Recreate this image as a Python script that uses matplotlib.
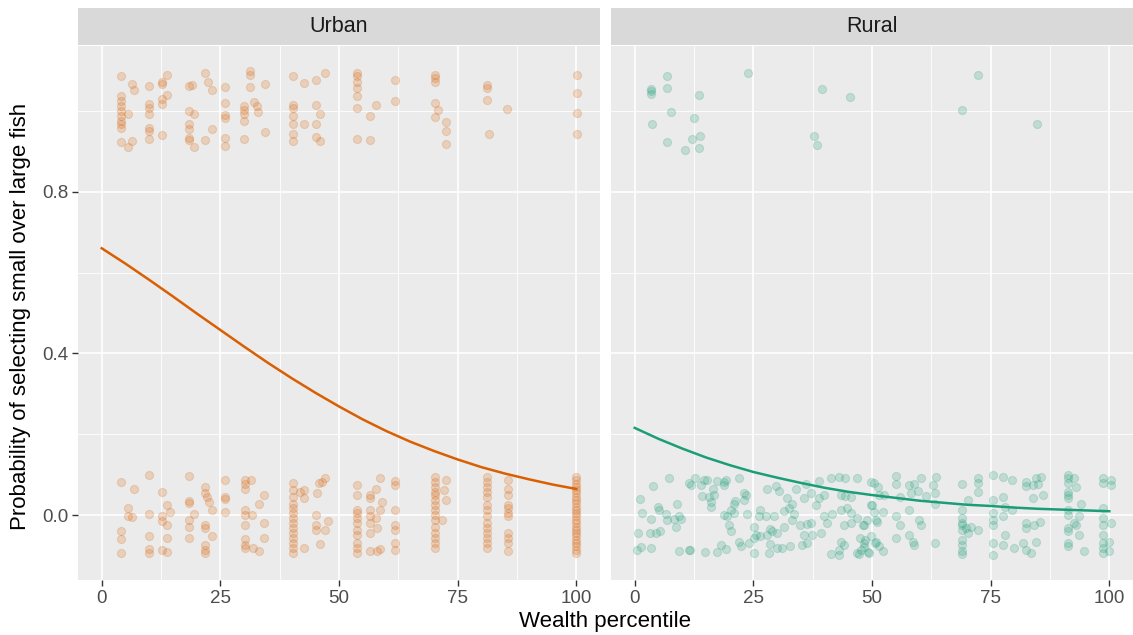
import matplotlib.pyplot as plt
import numpy as np

plt.rcParams['font.family'] = ['Liberation Sans', 'DejaVu Sans']

panels = ['Urban', 'Rural']
colors = {'Urban': '#D95F02', 'Rural': '#1B9E77'}

# jittered observations (wealth percentile, outcome)
urban_top = [
    (4.1, 1.087), (6.4, 1.067), (6.9, 1.051), (9.9, 1.061), (12.7, 1.065), (12.7, 1.072), (13.7, 1.089),
    (4.1, 1.036), (4.1, 1.023), (4.1, 1.011), (4.1, 0.999), (4.1, 0.987), (4.1, 0.974), (4.1, 0.966), (4.1, 0.958),
    (5.5, 0.991), (9.9, 1.017), (9.9, 1.007), (9.9, 0.991), (13.7, 1.039), (12.7, 1.028), (12.7, 1.017),
    (9.9, 0.958), (9.9, 0.950), (9.9, 0.929), (12.7, 0.940), (4.1, 0.923), (5.5, 0.910), (6.4, 0.925),
    (18.3, 1.060), (19.0, 1.063), (21.8, 1.094), (22.4, 1.072), (23.2, 1.052), (25.9, 1.058),
    (18.3, 0.999), (19.4, 0.992), (18.3, 0.966), (18.3, 0.954), (18.3, 0.933), (18.3, 0.927), (19.4, 0.910),
    (21.8, 0.927), (23.2, 0.954), (25.9, 1.020), (25.9, 0.989), (25.9, 0.982), (25.9, 0.933), (25.9, 0.913),
    (31.3, 1.097), (31.3, 1.089), (31.3, 1.058), (34.5, 1.067), (29.9, 1.011), (29.9, 1.003), (29.9, 0.991),
    (29.9, 0.974), (32.0, 1.022), (32.7, 1.011), (32.9, 0.997), (29.9, 0.929), (34.4, 0.947),
    (40.4, 1.087), (42.7, 1.068), (45.2, 1.077), (47.1, 1.093),
    (40.4, 1.015), (40.4, 1.007), (40.4, 0.987), (40.4, 0.966), (40.4, 0.943), (40.4, 0.925),
    (42.7, 0.966), (45.2, 1.015), (46.1, 0.991), (45.2, 0.968), (45.2, 0.935), (46.1, 0.925),
    (53.8, 1.093), (53.8, 1.085), (53.8, 1.072), (53.8, 1.056), (53.8, 1.036), (53.8, 1.007), (53.8, 0.931),
    (56.6, 0.987), (56.6, 0.928), (57.9, 1.015), (61.7, 1.077), (61.7, 1.023),
    (70.3, 1.089), (70.3, 1.082), (70.3, 1.071), (70.3, 1.020), (70.8, 1.001), (70.3, 0.984),
    (72.6, 0.973), (72.6, 0.951), (72.6, 0.917),
    (81.2, 1.063), (81.2, 1.056), (81.2, 1.026), (85.5, 1.005), (81.6, 0.943),
    (100.1, 1.089), (100.1, 1.044), (100.1, 0.995), (100.1, 0.943),
]

urban_bottom = [
    (4.1, 0.083), (9.9, 0.099), (6.9, 0.064), (12.7, 0.058), (5.5, 0.017), (5.5, -0.002), (6.4, -0.005), (9.9, 0.003),
    (4.1, -0.040), (4.1, -0.059), (4.1, -0.093), (9.9, -0.052), (9.9, -0.083), (9.9, -0.093),
    (12.7, -0.003), (12.7, -0.015), (13.7, -0.024), (13.8, 0.025), (14.3, 0.009), (13.8, -0.056), (12.7, -0.087), (13.8, -0.092),
    (18.3, 0.097), (18.3, 0.036), (18.3, 0.031), (19.4, 0.003), (18.3, -0.011), (18.3, -0.028), (18.3, -0.056),
    (21.8, 0.069), (21.8, 0.056), (22.2, 0.046), (22.5, 0.034), (23.2, 0.013), (21.8, -0.024), (21.8, -0.032), (23.2, -0.051),
    (21.8, -0.073), (21.8, -0.087), (21.8, -0.093),
    (25.9, 0.088), (25.9, 0.046), (25.9, 0.039), (25.9, 0.009),
    (30.1, 0.088), (30.1, 0.077), (30.1, 0.066), (31.5, 0.088), (34.1, 0.050), (33.1, 0.029),
    (30.1, 0.013), (30.1, 0.001), (31.6, 0.001), (30.1, -0.024), (34.1, -0.020), (34.1, -0.056),
    (30.1, -0.059), (30.1, -0.073), (30.1, -0.081), (31.9, -0.081), (33.1, -0.089),
    (40.4, 0.079), (40.4, 0.062), (40.4, 0.046), (40.4, 0.029), (40.4, 0.017), (40.4, 0.005), (40.4, -0.007),
    (40.4, -0.020), (40.4, -0.032), (40.4, -0.044), (40.4, -0.056), (40.4, -0.069), (40.4, -0.081), (40.4, -0.093),
    (41.8, 0.058), (42.7, 0.062), (42.7, 0.042), (45.7, 0.079), (47.1, 0.091), (46.4, 0.083), (45.3, 0.054),
    (45.2, 0.001), (45.2, -0.024), (45.2, -0.036), (47.7, -0.015), (47.0, -0.036), (46.1, -0.070), (42.7, -0.081),
    (53.8, 0.074), (53.8, 0.050), (53.8, 0.013), (53.8, 0.005), (53.8, -0.007), (53.8, -0.020), (53.8, -0.036),
    (53.8, -0.048), (53.8, -0.069), (53.8, -0.081), (53.8, -0.093),
    (56.6, 0.050), (56.6, 0.042), (56.6, 0.013), (56.6, -0.003), (56.6, -0.020), (56.6, -0.044), (56.6, -0.089),
    (57.7, 0.066), (58.7, 0.091), (59.1, 0.034), (58.7, 0.013), (57.7, -0.007), (58.0, -0.032), (58.0, -0.089), (58.7, -0.083),
    (61.7, 0.085), (61.7, 0.074), (61.7, 0.013), (61.7, -0.024), (61.7, -0.036), (61.7, -0.069), (61.7, -0.087),
    (70.3, 0.095), (70.3, 0.083), (70.3, 0.070), (70.3, 0.058), (70.3, 0.050), (70.3, 0.038), (70.3, 0.025), (70.3, 0.013),
    (70.3, 0.001), (70.3, -0.011), (70.3, -0.028), (70.3, -0.044), (70.3, -0.056), (70.3, -0.069), (70.3, -0.081),
    (72.6, 0.088), (72.1, 0.062), (72.6, 0.038), (71.7, -0.011),
    (81.2, 0.095), (81.2, 0.083), (81.2, 0.070), (81.2, 0.058), (81.2, 0.046), (81.2, 0.025), (81.2, 0.013),
    (81.2, -0.003), (81.2, -0.020), (81.2, -0.032), (81.2, -0.044), (81.2, -0.056), (81.2, -0.069), (81.2, -0.081),
    (85.6, 0.087), (85.6, 0.066), (85.6, 0.050), (85.6, 0.025), (85.6, 0.017), (85.6, 0.005), (85.6, -0.003),
    (85.6, -0.044), (85.6, -0.056), (85.6, -0.069), (85.6, -0.089),
    (100.0, 0.095), (100.0, 0.087), (100.0, 0.078), (100.0, 0.070), (100.0, 0.062), (100.0, 0.054), (100.0, 0.046),
    (100.0, 0.038), (100.0, 0.030), (100.0, 0.021), (100.0, 0.013), (100.0, 0.005), (100.0, -0.003), (100.0, -0.011),
    (100.0, -0.020), (100.0, -0.028), (100.0, -0.036), (100.0, -0.044), (100.0, -0.052), (100.0, -0.061),
    (100.0, -0.069), (100.0, -0.077), (100.0, -0.085), (100.0, -0.093),
]

rural_top = [
    (6.7, 1.087), (3.4, 1.054), (3.4, 1.048), (3.4, 1.041), (6.7, 1.056), (13.5, 1.040), (23.9, 1.093),
    (7.6, 0.996), (3.7, 0.968), (12.5, 0.981), (6.9, 0.923), (12.1, 0.931), (13.7, 0.937), (10.5, 0.902),
    (13.5, 0.907), (39.4, 1.053), (45.3, 1.033), (37.8, 0.937), (38.5, 0.915), (72.3, 1.089), (69.0, 1.003),
    (84.8, 0.966),
]

rural_bottom = [
    (7.2, 0.093), (3.9, 0.072), (1.1, 0.039), (1.6, 0.005), (4.8, 0.021), (5.1, 0.013), (3.4, -0.010), (6.5, 0.003),
    (6.9, -0.011), (9.0, 0.028), (9.3, -0.003), (9.7, -0.010), (8.3, -0.010), (8.6, -0.028), (0.7, -0.043),
    (3.2, -0.044), (4.4, -0.044), (5.3, -0.040), (0.4, -0.087), (1.4, -0.079), (3.4, -0.082), (9.3, -0.089),
    (11.4, -0.087), (11.6, -0.085), (12.8, 0.093), (11.8, 0.074), (11.4, 0.079), (14.6, 0.088), (13.9, 0.074),
    (15.3, 0.088), (17.4, 0.085), (18.8, 0.083), (19.2, 0.088), (16.4, 0.066), (14.2, 0.047), (15.6, 0.046),
    (16.0, 0.034), (16.0, 0.021), (16.7, 0.050), (22.0, 0.093), (18.8, 0.074), (23.0, 0.056), (23.4, 0.050),
    (23.0, 0.038), (21.1, 0.036), (20.9, 0.029), (20.2, 0.013), (18.8, 0.001), (19.5, -0.003), (20.9, 0.005),
    (23.7, 0.003), (19.9, -0.024), (20.2, -0.040), (26.4, 0.013), (26.2, -0.003), (27.6, -0.002), (29.3, -0.002),
    (27.9, 0.066), (29.7, 0.072), (30.4, 0.061), (32.1, 0.042), (33.2, 0.029), (32.5, 0.017), (31.4, 0.011),
    (33.5, 0.003), (33.2, -0.011), (31.4, -0.028), (30.0, -0.043), (28.6, -0.034), (29.0, -0.040), (25.1, -0.029),
    (25.5, -0.048), (26.5, -0.051), (27.9, -0.048), (22.0, -0.065), (22.3, -0.075), (24.1, -0.069), (25.1, -0.056),
    (28.6, -0.070), (30.0, -0.081), (31.1, -0.081), (32.8, -0.077), (25.1, -0.093), (28.3, -0.093), (14.9, -0.092),
    (17.4, -0.092), (18.1, -0.073), (19.2, -0.083), (33.9, 0.066), (36.0, 0.077), (35.6, 0.042), (37.1, 0.054),
    (38.8, 0.085), (39.9, 0.050), (41.3, 0.091), (43.0, 0.095), (44.4, 0.091), (46.9, 0.091), (49.7, 0.083),
    (43.4, 0.050), (44.4, 0.047), (45.5, 0.046), (38.1, 0.025), (38.8, 0.042), (34.9, -0.024), (36.4, -0.021),
    (37.1, -0.018), (35.6, -0.048), (37.4, -0.048), (35.3, -0.073), (36.4, -0.069), (39.2, -0.044), (39.9, -0.003),
    (40.6, -0.020), (41.6, 0.003), (43.4, 0.013), (44.8, 0.017), (45.5, 0.005), (46.9, -0.007), (48.3, -0.024),
    (49.0, -0.011), (50.4, 0.007), (51.1, -0.016), (43.4, -0.065), (44.1, -0.073), (43.0, -0.087), (43.0, -0.097),
    (46.9, -0.093), (47.2, -0.095), (48.3, -0.079), (49.3, -0.093), (48.6, -0.062), (49.7, -0.052), (50.7, -0.069),
    (51.4, -0.077), (50.0, 0.025), (51.4, 0.050), (50.4, 0.079), (45.5, -0.020), (44.1, -0.024), (41.3, -0.095),
    (51.2, 0.070), (55.1, 0.097), (55.1, 0.077), (57.9, 0.074), (60.4, 0.091), (58.9, 0.077), (59.6, 0.061),
    (63.5, 0.095), (62.8, 0.074), (63.2, 0.054), (61.4, 0.047), (58.2, 0.054), (55.8, 0.046), (52.6, 0.050),
    (49.8, 0.025), (52.3, 0.009), (55.1, -0.003), (55.8, -0.024), (57.9, 0.013), (60.0, -0.011), (60.4, -0.024),
    (63.2, 0.029), (48.1, -0.024), (50.9, -0.011), (47.4, -0.056), (48.4, -0.069), (47.7, -0.085), (49.1, -0.092),
    (50.9, -0.065), (52.3, -0.089), (55.1, -0.056), (57.9, -0.048), (58.6, -0.065), (58.9, -0.073), (63.2, -0.069),
    (69.0, 0.077), (69.0, 0.013), (69.0, -0.007), (69.0, -0.018), (69.0, -0.024), (69.0, -0.036), (69.0, -0.061),
    (69.0, -0.073), (69.0, -0.089), (69.0, -0.095), (70.2, 0.038), (69.8, -0.032), (70.9, -0.028), (72.3, -0.036),
    (70.2, -0.044), (72.3, 0.091), (72.3, 0.079), (72.3, 0.058), (75.4, 0.099), (77.5, 0.095), (79.6, 0.088),
    (75.4, 0.038), (77.5, 0.046), (78.1, 0.021), (75.4, 0.005), (75.4, -0.011), (75.4, -0.024), (77.5, -0.003),
    (78.1, -0.048), (75.4, -0.069), (75.4, -0.097), (77.5, -0.073), (80.0, -0.081), (79.6, 0.013),
    (82.5, 0.083), (82.5, 0.072), (84.6, 0.091), (85.6, 0.095), (83.9, 0.074), (84.9, 0.077), (86.0, 0.050),
    (83.9, 0.042), (82.5, -0.020), (82.5, -0.032), (84.2, -0.024), (85.3, -0.016), (81.8, -0.069), (82.5, -0.085),
    (83.5, -0.093), (84.6, -0.065),
    (91.4, 0.099), (91.4, 0.091), (91.4, 0.079), (91.4, 0.058), (91.4, 0.050), (91.4, 0.042), (91.4, 0.013),
    (91.4, 0.001), (91.4, -0.032), (91.4, -0.040), (91.4, -0.069), (91.4, -0.077), (92.6, 0.091), (93.0, 0.070),
    (93.7, -0.003), (92.6, -0.020), (93.7, -0.048), (94.0, 0.029), (94.7, -0.089), (93.0, -0.024),
    (98.6, 0.091), (98.6, 0.079), (98.6, 0.017), (98.6, -0.007), (98.6, -0.024), (98.6, -0.048), (98.6, -0.069),
    (98.6, -0.081), (98.6, -0.093), (100.4, 0.087), (100.4, 0.074), (100.4, -0.020), (100.0, -0.065), (100.0, -0.089),
]

# fitted curves
curve_x = [0, 5, 10, 15, 20, 25, 30, 35, 40, 45, 50, 55, 60, 65, 70, 75, 80, 85, 90, 95, 100]
urban_fit = [0.660, 0.622, 0.582, 0.541, 0.499, 0.458, 0.417, 0.377, 0.339, 0.303, 0.269,
             0.237, 0.208, 0.182, 0.159, 0.138, 0.119, 0.103, 0.089, 0.076, 0.065]
rural_fit = [0.216, 0.189, 0.165, 0.143, 0.124, 0.107, 0.093, 0.080, 0.068, 0.058, 0.050,
             0.043, 0.036, 0.031, 0.026, 0.023, 0.019, 0.016, 0.014, 0.012, 0.010]

points = {'Urban': urban_top + urban_bottom, 'Rural': rural_top + rural_bottom}
fits = {'Urban': urban_fit, 'Rural': rural_fit}

fig = plt.figure(figsize=(11.33, 6.35), dpi=100)
W, H = 1133, 635
lefts = [78, 611]
pw = 522
ptop, pbot = 46, 580

for i, name in enumerate(panels):
    ax = fig.add_axes([lefts[i] / W, 1 - pbot / H, pw / W, (pbot - ptop) / H])
    ax.set_facecolor('#EBEBEB')
    for s in ax.spines.values():
        s.set_visible(False)
    ax.set_xlim(-5, 105)
    ax.set_ylim(-0.16, 1.16)
    ax.set_xticks([0, 25, 50, 75, 100])
    ax.set_xticks([12.5, 37.5, 62.5, 87.5], minor=True)
    ax.set_yticks([0.0, 0.4, 0.8])
    ax.set_yticks([0.2, 0.6, 1.0], minor=True)
    ax.grid(True, which='major', color='white', linewidth=1.2)
    ax.grid(True, which='minor', color='white', linewidth=0.6)
    ax.set_axisbelow(True)
    ax.tick_params(which='major', length=4, width=1, color='#333333', labelsize=13.5,
                   labelcolor='#4D4D4D', pad=3)
    ax.tick_params(which='minor', length=0)
    if i == 0:
        ax.set_yticklabels(['0.0', '0.4', '0.8'])
    else:
        ax.tick_params(axis='y', which='both', left=False, labelleft=False)

    pts = np.array(points[name])
    c = colors[name]
    ax.scatter(pts[:, 0], pts[:, 1], s=34, color=c, alpha=0.2, edgecolors=c, linewidths=0.8, zorder=2)
    ax.plot(curve_x, fits[name], color=c, linewidth=1.8, zorder=3)

    # facet strip
    sax = fig.add_axes([lefts[i] / W, 1 - 45 / H, pw / W, 37 / H])
    sax.set_facecolor('#D9D9D9')
    sax.set_xticks([])
    sax.set_yticks([])
    for s in sax.spines.values():
        s.set_visible(False)
    sax.text(0.5, 0.5, name, ha='center', va='center', fontsize=15.5, color='#1A1A1A',
             transform=sax.transAxes)

fig.text(605 / W, 1 - 622 / H, 'Wealth percentile', ha='center', va='center', fontsize=16)
fig.text(21 / W, 1 - 316 / H, 'Probability of selecting small over large fish', ha='center',
         va='center', rotation=90, fontsize=16)

plt.savefig('out.png', dpi=100)
